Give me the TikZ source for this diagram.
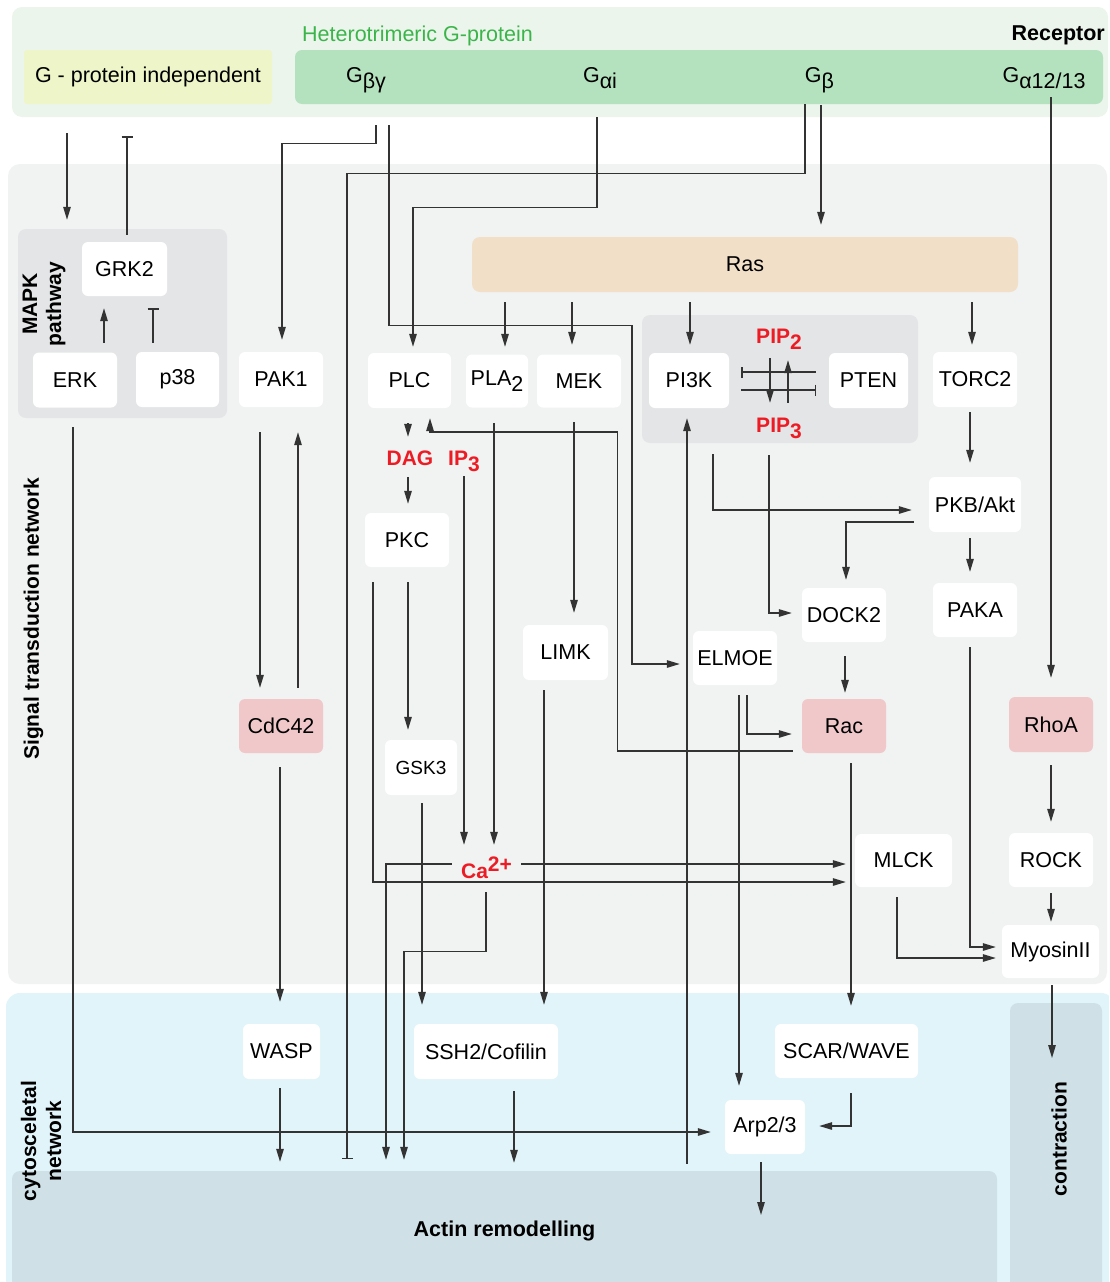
\documentclass[tikz,border=0pt]{standalone}
\usepackage{fontspec}
\setmainfont{Liberation Sans}
\usetikzlibrary{arrows.meta}
\definecolor{linec}{HTML}{333333}
\definecolor{topc}{HTML}{EBF5EC}
\definecolor{yelc}{HTML}{EEF5C8}
\definecolor{greenc}{HTML}{B4E2BE}
\definecolor{greent}{HTML}{3BB54A}
\definecolor{sigc}{HTML}{F1F2F2}
\definecolor{grpc}{HTML}{E4E5E6}
\definecolor{rasc}{HTML}{F2DFC7}
\definecolor{pinkc}{HTML}{F0C8CA}
\definecolor{cytc}{HTML}{E1F4FA}
\definecolor{actc}{HTML}{CFE1E7}
\definecolor{redc}{HTML}{ED1C24}
\newcommand\nfnt{\fontsize{21.5}{25}\selectfont}
\newcommand\sbs[1]{\raisebox{-6pt}{#1}}
\newcommand\sps[1]{\raisebox{7pt}{#1}}
\begin{document}
\begin{tikzpicture}[x=1pt,y=-1pt,
  box/.style={fill=white, rounded corners=6pt, inner sep=0pt, minimum height=54pt, font=\nfnt},
  pinkbox/.style={box, fill=pinkc},
  grp/.style={fill=grpc, rounded corners=8pt, inner sep=0pt},
  gsub/.style={inner sep=0pt, minimum height=54pt, text height=13pt, text depth=2pt, font=\nfnt},
  redt/.style={text=redc, font=\fontsize{21}{24}\selectfont\bfseries, inner sep=0pt, text height=15pt, text depth=0pt},
  lbl/.style={font=\fontsize{21}{24}\selectfont\bfseries, inner sep=0pt},
  arr/.style={draw=linec, line width=1.3pt, -{Triangle[length=13pt,width=7.5pt]}},
  inh/.style={draw=linec, line width=1.3pt, -{Bar[width=11pt]}}]
\useasboundingbox (0,0) rectangle (1109,1282);
\clip (0,0) rectangle (1109,1282);
\fill[white] (0,0) rectangle (1109,1282);
% regions
\fill[topc, rounded corners=10pt] (12,7) rectangle (1108,117);
\fill[sigc, rounded corners=12pt] (8,164) rectangle (1107,984);
\fill[cytc, rounded corners=14pt] (6,993) rectangle (1115,1300);
% group nodes
\node[box, fill=yelc, rounded corners=3pt, minimum width=248pt] (gind) at (148,77) {G - protein independent};
\node[fill=greenc, rounded corners=7pt, minimum width=808pt, minimum height=54pt, inner sep=0pt] (gbar) at (699,77) {};
\node[gsub] (gbg) at (366,77) {G\sbs{βγ}};
\node[gsub] (gai) at (600,77) {G\sbs{αi}};
\node[gsub] (gb) at (819.5,77) {G\sbs{β}};
\node[gsub] (ga12) at (1044,77) {G\sbs{α12/13}};
\node[anchor=base west, text=greent, font=\nfnt, inner sep=0pt] (het) at (302,41) {Heterotrimeric G-protein};
\node[anchor=base east, font=\nfnt\bfseries, inner sep=0pt] (rec) at (1105,40) {Receptor};
\node[grp, minimum width=209pt, minimum height=189pt] (mapk) at (122.5,323.5) {};
\node[grp, minimum width=276pt, minimum height=128pt] (pi3kg) at (780,379) {};
\node[box, fill=rasc, rounded corners=8pt, minimum width=546pt, minimum height=55pt] (ras) at (745,264.5) {Ras};
\node[grp, fill=actc, minimum width=985pt, minimum height=119pt, font=\fontsize{21.5}{25}\selectfont\bfseries] (actin) at (504.5,1230.5) {Actin remodelling};
\node[grp, fill=actc, minimum width=92pt, minimum height=287pt] (contr) at (1056,1146.5) {};
% labels
\node[lbl, rotate=90] (stn) at (33.5,618.5) {Signal transduction network};
\node[lbl, rotate=90, align=center] (mapklbl) at (44,304) {MAPK\\pathway};
\node[lbl, rotate=90, align=center, font=\fontsize{21}{25}\selectfont\bfseries] (cytolbl) at (41,1141) {cytosceletal\\network};
\node[lbl, rotate=90] (contrlbl) at (1059,1139) {contraction};
% protein nodes
\node[box, minimum width=85pt] (grk2) at (124.5,269) {GRK2};
\node[box, minimum width=84pt, minimum height=55pt] (erk) at (75,380) {ERK};
\node[box, minimum width=83pt, minimum height=55pt] (p38) at (177.5,379.5) {p38};
\node[box, minimum width=84pt, minimum height=55pt] (pak1) at (281,379.5) {PAK1};
\node[box, minimum width=83pt, minimum height=55pt] (plc) at (409.5,380.5) {PLC};
\node[box, minimum width=62pt, minimum height=53pt] (pla2) at (497,381) {PLA\sbs{2}};
\node[box, minimum width=84pt, minimum height=53pt] (mek) at (579,381) {MEK};
\node[box, minimum width=80pt, minimum height=55pt] (pi3k) at (689,380.5) {PI3K};
\node[box, minimum width=79pt, minimum height=55pt] (pten) at (868.5,380.5) {PTEN};
\node[box, minimum width=84pt, minimum height=55pt] (torc2) at (975,379.5) {TORC2};
\node[box, minimum width=92pt, minimum height=55pt] (pkb) at (975,504.5) {PKB/Akt};
\node[box, minimum width=84pt] (pkc) at (407,540) {PKC};
\node[box, minimum width=84pt] (dock2) at (844,615) {DOCK2};
\node[box, minimum width=84pt] (paka) at (975,610) {PAKA};
\node[box, minimum width=85pt, minimum height=55pt] (limk) at (565.5,652.5) {LIMK};
\node[box, minimum width=84pt] (elmoe) at (735,658) {ELMOE};
\node[pinkbox, minimum width=84pt] (cdc42) at (281,726) {CdC42};
\node[pinkbox, minimum width=84pt] (rac) at (844,726) {Rac};
\node[pinkbox, minimum width=84pt, minimum height=55pt] (rhoa) at (1051,724.5) {RhoA};
\node[box, minimum width=72pt, minimum height=55pt, font=\fontsize{19}{22}\selectfont] (gsk3) at (421,767.5) {GSK3};
\node[box, minimum width=97pt, minimum height=53pt] (mlck) at (903.5,860.5) {MLCK};
\node[box, minimum width=84pt] (rock) at (1051,860) {ROCK};
\node[box, minimum width=97pt, minimum height=53pt] (myo) at (1050.5,951.5) {MyosinII};
\node[box, minimum width=77pt, minimum height=55pt] (wasp) at (281.5,1051.5) {WASP};
\node[box, minimum width=144pt, minimum height=55pt] (ssh2) at (486,1051.5) {SSH2/Cofilin};
\node[box, minimum width=143pt] (scar) at (846.5,1051) {SCAR/WAVE};
\node[box, minimum width=80pt] (arp) at (765,1127) {Arp2/3};
% messengers
\node[redt] (dag) at (410,457.5) {DAG};
\node[redt] (ip3) at (464,457.5) {IP\sbs{3}};
\node[redt] (pip2) at (779,335.5) {PIP\sbs{2}};
\node[redt] (pip3) at (779,424.5) {PIP\sbs{3}};
\node[redt] (ca) at (486.5,870.5) {Ca\sps{2+}};
% connectors
\draw[arr, shorten <=29pt, shorten >=9pt] ([xshift=-81pt]gind.south) -- ([xshift=-55.5pt]mapk.north);
\draw[inh, shorten <=7pt, shorten >=32pt] ([xshift=2.5pt]grk2.north) -- ([xshift=-21pt]gind.south);
\draw[arr, shorten <=9.5pt, shorten >=12pt] ([xshift=29pt]erk.north) -- ([xshift=-20.5pt]grk2.south);
\draw[inh, shorten <=9pt, shorten >=12pt] ([xshift=-24.5pt]p38.north) -- ([xshift=28.5pt]grk2.south);
\draw[arr, shorten <=19.5pt, shorten >=14pt] ([xshift=-2pt]erk.south) |- ([yshift=-5pt]arp.west);
\draw[arr, shorten <=21pt, shorten >=12pt] ([xshift=10pt]gbg.south) -- ++(0,39) -| ([xshift=1pt]pak1.north);
\draw[arr, shorten <=21pt, shorten >=13pt] ([xshift=23pt]gbg.south) -- ++(0,221) -- ++(243,0) |- ([yshift=-6pt]elmoe.west);
\draw[arr, shorten <=13pt, shorten >=6pt] ([xshift=-3pt]gai.south) -- ++(0,103) -| ([xshift=3.5pt]plc.north);
\draw[inh, shorten >=12pt] ([xshift=-14.5pt]gb.south) -- ++(0,69) -| ([xshift=-157.5pt]actin.north);
\draw[arr, shorten <=1pt, shorten >=12pt] ([xshift=1.5pt]gb.south) -- ([xshift=76pt]ras.north);
\draw[arr, shorten >=19pt] ([xshift=7pt,yshift=7pt]ga12.south) -- (rhoa.north);
\draw[arr, shorten <=10pt, shorten >=7.5pt] ([xshift=-240pt]ras.south) -- ([xshift=8pt]pla2.north);
\draw[arr, shorten <=10pt, shorten >=9.5pt] ([xshift=-173pt]ras.south) -- ([xshift=-7pt]mek.north);
\draw[arr, shorten <=10pt, shorten >=8pt] ([xshift=-55pt]ras.south) -- ([xshift=1pt]pi3k.north);
\draw[arr, shorten <=10pt, shorten >=7pt] ([xshift=227pt]ras.south) -- ([xshift=-3pt]torc2.north);
\draw[inh, shorten <=13pt, shorten >=12pt] ([yshift=8.5pt]pten.west) -- ([yshift=8.5pt]pi3k.east);
\draw[inh, shorten <=12pt, shorten >=13pt] ([yshift=-9.5pt]pi3k.east) -- ([yshift=-9.5pt]pten.west);
\draw[arr, shorten <=15pt, shorten >=14pt] ([xshift=-9pt]pip2.south) -- ([xshift=-9pt]pip3.north);
\draw[arr, shorten <=14pt, shorten >=17pt] ([xshift=9pt]pip3.north) -- ([xshift=9pt]pip2.south);
\draw[arr, shorten <=15pt, shorten >=13pt] ([xshift=-1.5pt]plc.south) -- ([xshift=-2pt]dag.north);
\draw[arr, shorten <=12pt, shorten >=9pt] ([xshift=-2pt]dag.south) -- ([xshift=1pt]pkc.north);
\draw[arr, shorten <=9pt, shorten >=10pt] ([yshift=-25pt]rac.west) -| ++(-184,-319) -| ([xshift=20.5pt]plc.south);
\draw[arr, shorten <=15.5pt, shorten >=18pt] ([xshift=-3pt]pla2.south) -- ([xshift=7.5pt]ca.north);
\draw[arr, shorten <=11pt, shorten >=18pt] (ip3.south) -- ([xshift=-22.5pt]ca.north);
\draw[arr, shorten <=15pt, shorten >=10pt] ([xshift=1pt]pkc.south) -- ([xshift=-13pt]gsk3.north);
\draw[arr, shorten <=15pt, shorten >=9pt] ([xshift=-34pt]pkc.south) |- ([yshift=-21.5pt]mlck.west);
\draw[arr, shorten <=9pt, shorten >=9pt] ([yshift=6.5pt]ca.east) -- ([yshift=-3.5pt]mlck.west);
\draw[arr, shorten <=9pt, shorten >=11pt] ([yshift=6.5pt]ca.west) -| ([xshift=-118.5pt]actin.north);
\draw[arr, shorten <=14pt, shorten >=11pt] ([xshift=-0.5pt]ca.south) -- ++(0,73) -| ([xshift=-100.5pt]actin.north);
\draw[arr, shorten <=8pt, shorten >=19pt] ([xshift=1pt]gsk3.south) -- ([xshift=-64pt]ssh2.north);
\draw[arr, shorten <=14.5pt, shorten >=12pt] ([xshift=-5pt]mek.south) -- ([xshift=8.5pt]limk.north);
\draw[arr, shorten <=10pt, shorten >=19pt] ([xshift=-21.5pt]limk.south) -- ([xshift=58pt]ssh2.north);
\draw[arr, shorten <=25pt, shorten >=11pt] ([xshift=-21pt]pak1.south) -- ([xshift=-21pt]cdc42.north);
\draw[arr, shorten <=11pt, shorten >=25pt] ([xshift=17pt]cdc42.north) -- ([xshift=17pt]pak1.south);
\draw[arr, shorten <=14pt, shorten >=22pt] ([xshift=-1pt]cdc42.south) -- ([xshift=-1.5pt]wasp.north);
\draw[arr, shorten <=9pt, shorten >=9pt] ([xshift=-1.5pt]wasp.south) -- ([xshift=-224.5pt]actin.north);
\draw[arr, shorten <=12pt, shorten >=8pt] ([xshift=28pt]ssh2.south) -- ([xshift=9.5pt]actin.north);
\draw[arr, shorten <=8pt, shorten >=15.5pt] ([xshift=-4pt]arp.south) -- ([xshift=256.5pt]actin.center);
\draw[arr, shorten <=7pt, shorten >=10pt] ([xshift=182.5pt]actin.north) -- ([xshift=-2pt]pi3k.south);
\draw[arr, shorten <=46pt, shorten >=17pt] ([xshift=24pt]pi3k.south) |- ([yshift=-5.5pt]pkb.west);
\draw[arr, shorten <=23pt, shorten >=10pt] ([xshift=-10pt]pip3.south) |- ([yshift=2pt]dock2.west);
\draw[arr, shorten <=15pt, shorten >=8pt] ([yshift=-17.5pt]pkb.west) -| ([xshift=2pt]dock2.north);
\draw[arr, shorten <=5pt, shorten >=14pt] ([xshift=-5pt]torc2.south) -- ([xshift=-5pt]pkb.north);
\draw[arr, shorten <=6pt, shorten >=11pt] ([xshift=-5pt]pkb.south) -- ([xshift=-5pt]paka.north);
\draw[arr, shorten <=10pt, shorten >=6pt] ([xshift=-5pt]paka.south) |- ([yshift=4.5pt]myo.west);
\draw[arr, shorten <=14pt, shorten >=6pt] ([xshift=1pt]dock2.south) -- ([xshift=1pt]rac.north);
\draw[arr, shorten <=10pt, shorten >=10pt] ([xshift=12pt]elmoe.south) |- ([yshift=-8pt]rac.west);
\draw[arr, shorten <=10pt, shorten >=14pt] ([xshift=4pt]elmoe.south) -- ([xshift=-26pt]arp.north);
\draw[arr, shorten <=10pt, shorten >=18pt] ([xshift=7pt]rac.south) -- ([xshift=4.5pt]scar.north);
\draw[arr, shorten <=15pt, shorten >=14pt] ([xshift=4.5pt]scar.south) |- ([yshift=1pt]arp.east);
\draw[arr, shorten <=13pt, shorten >=11pt] (rhoa.south) -- (rock.north);
\draw[arr, shorten <=6pt, shorten >=3pt] (rock.south) -- ([xshift=0.5pt]myo.north);
\draw[arr, shorten <=10pt, shorten >=6pt] ([xshift=-6.5pt]mlck.south) |- ([yshift=-6.5pt]myo.west);
\draw[arr, shorten <=7pt, shorten >=88.5pt] ([xshift=1.5pt]myo.south) -- ([xshift=-4pt]contr.center);
\end{tikzpicture}
\end{document}
